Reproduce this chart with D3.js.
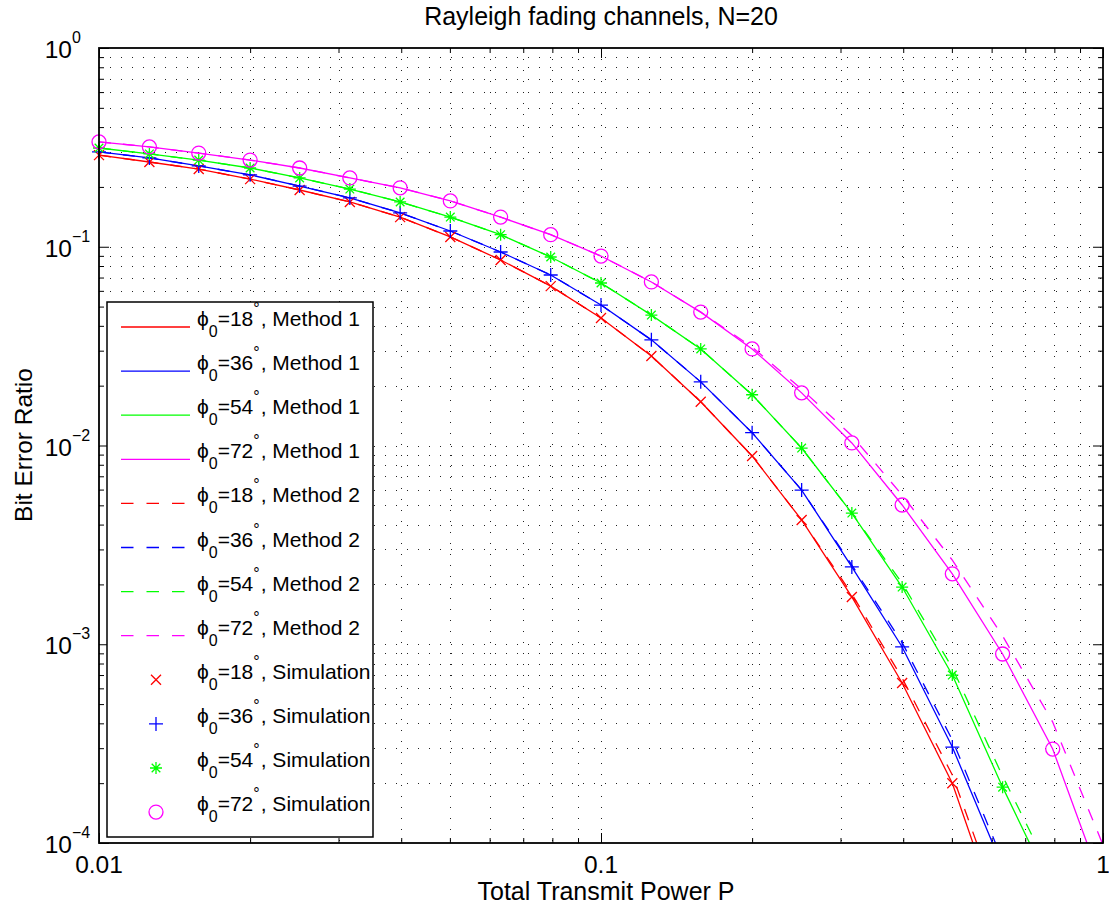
<!DOCTYPE html>
<html>
<head>
<meta charset="utf-8">
<script src="https://d3js.org/d3.v7.min.js"></script>
<style>
body { margin: 0; background: #fff; }
text { font-family: "Liberation Sans", Arial, Helvetica, sans-serif; fill: #000; }
</style>
</head>
<body>
<div id="chart-area"></div>
<script>
// transmit power grid (x values)
const P = [0.01, 0.0126, 0.0158, 0.02, 0.0251, 0.0316, 0.0398, 0.0501, 0.0631, 0.0794,
	0.1, 0.126, 0.158, 0.2, 0.251, 0.316, 0.398, 0.501, 0.631, 0.794, 1]

// Method 1 (solid)
const m1_18 = [0.289, 0.267, 0.246, 0.219, 0.193, 0.168, 0.141, 0.112, 0.0858, 0.0634, 0.0438, 0.0282, 0.0166, 0.00886, 0.00422, 0.00173, 0.000638, 0.000200, 3.69e-5]
const m1_36 = [0.300, 0.280, 0.255, 0.230, 0.202, 0.176, 0.148, 0.120, 0.0941, 0.0721, 0.0509, 0.0340, 0.0209, 0.0116, 0.00597, 0.00245, 0.000969, 0.000304, 7.57e-5]
const m1_54 = [0.314, 0.293, 0.273, 0.249, 0.222, 0.195, 0.168, 0.141, 0.115, 0.0888, 0.0657, 0.0453, 0.0306, 0.0180, 0.00971, 0.00457, 0.00194, 0.000700, 0.000191, 5.73e-5]
const m1_72 = [0.337, 0.318, 0.296, 0.273, 0.249, 0.222, 0.198, 0.170, 0.141, 0.115, 0.0898, 0.0665, 0.0469, 0.0306, 0.0184, 0.0103, 0.00502, 0.00226, 0.000893, 0.000297, 6.01e-5]

// Method 2 (dashed)
const m2_18 = [0.289, 0.267, 0.246, 0.219, 0.193, 0.168, 0.141, 0.112, 0.0858, 0.0634, 0.0438, 0.0282, 0.0166, 0.00886, 0.00422, 0.00179, 0.000676, 0.000220, 4.34e-5]
const m2_36 = [0.300, 0.280, 0.255, 0.230, 0.202, 0.176, 0.148, 0.120, 0.0941, 0.0721, 0.0509, 0.0340, 0.0209, 0.0116, 0.00597, 0.00250, 0.00102, 0.000330, 8.21e-5]
const m2_54 = [0.314, 0.293, 0.273, 0.249, 0.222, 0.195, 0.168, 0.141, 0.115, 0.0888, 0.0657, 0.0453, 0.0306, 0.0180, 0.00971, 0.00457, 0.00203, 0.000760, 0.000217, 6.74e-5]
const m2_72 = [0.337, 0.318, 0.296, 0.273, 0.249, 0.222, 0.198, 0.170, 0.141, 0.115, 0.0898, 0.0665, 0.0469, 0.0313, 0.0192, 0.0112, 0.00563, 0.00265, 0.00110, 0.000406, 9.77e-5]

// Simulation (markers)
const sim_18 = [0.289, 0.267, 0.246, 0.219, 0.193, 0.168, 0.141, 0.112, 0.0858, 0.0634, 0.0438, 0.0282, 0.0166, 0.00886, 0.00422, 0.00173, 0.000638, 0.000200]
const sim_36 = [0.300, 0.280, 0.255, 0.230, 0.202, 0.176, 0.148, 0.120, 0.0941, 0.0721, 0.0509, 0.0340, 0.0209, 0.0116, 0.00597, 0.00245, 0.000969, 0.000304]
const sim_54 = [0.314, 0.293, 0.273, 0.249, 0.222, 0.195, 0.168, 0.141, 0.115, 0.0888, 0.0657, 0.0453, 0.0306, 0.0180, 0.00971, 0.00457, 0.00194, 0.000700, 0.000191]
const sim_72 = [0.337, 0.318, 0.296, 0.273, 0.249, 0.222, 0.198, 0.170, 0.141, 0.115, 0.0898, 0.0665, 0.0469, 0.0306, 0.0184, 0.0103, 0.00502, 0.00226, 0.000893, 0.000297]

const angles = ["18", "36", "54", "72"]
const colors = ["#ff0000", "#0000ff", "#00ff00", "#ff00ff"]
const markers = ["x", "plus", "star", "circle"]

// tick labels
const xMajor = [0.01, 0.1, 1]
const xLabels = ["0.01", "0.1", "1"]
const yMajor = [1e-4, 1e-3, 1e-2, 1e-1, 1]
const yExp = ["\u22124", "\u22123", "\u22122", "\u22121", "0"]

const MARGIN = { LEFT: 99, RIGHT: 6, TOP: 48, BOTTOM: 64 }
const WIDTH = 1109 - MARGIN.LEFT - MARGIN.RIGHT
const HEIGHT = 907 - MARGIN.TOP - MARGIN.BOTTOM

const svg = d3.select("#chart-area").append("svg")
	.attr("width", 1109)
	.attr("height", 907)

const g = svg.append("g")
	.attr("transform", `translate(${MARGIN.LEFT}, ${MARGIN.TOP})`)

const x = d3.scaleLog().domain([0.01, 1]).range([0, WIDTH])
const y = d3.scaleLog().domain([1e-4, 1]).range([HEIGHT, 0])

// minor tick positions (2..9 per decade)
const xMinor = []
xMajor.slice(0, -1).forEach(d => { for (let k = 2; k < 10; k++) xMinor.push(d * k) })
const yMinor = []
yMajor.slice(0, -1).forEach(d => { for (let k = 2; k < 10; k++) yMinor.push(d * k) })

// dotted grid
const gridX = xMajor.slice(1, -1).concat(xMinor)
const gridY = yMajor.slice(1, -1).concat(yMinor)
const grid = g.append("g")
	.attr("stroke", "#222")
	.attr("stroke-width", 1)
	.attr("stroke-dasharray", "1,10")
	.attr("shape-rendering", "crispEdges")
grid.selectAll(".gx").data(gridX).enter().append("line")
	.attr("x1", d => Math.round(x(d)) + 0.5).attr("x2", d => Math.round(x(d)) + 0.5)
	.attr("y1", 0).attr("y2", HEIGHT)
grid.selectAll(".gy").data(gridY).enter().append("line")
	.attr("y1", d => Math.round(y(d)) + 0.5).attr("y2", d => Math.round(y(d)) + 0.5)
	.attr("x1", 0).attr("x2", WIDTH)

// ticks on all four sides, pointing inward
const addTicks = (axis, values, size, transform) => {
	const a = g.append("g")
		.attr("transform", transform)
		.call(axis.tickValues(values).tickSize(-size).tickFormat(""))
	a.select(".domain").remove()
	a.selectAll("line").attr("stroke-width", 1)
}
addTicks(d3.axisBottom(x), xMinor, 5, `translate(0, ${HEIGHT})`)
addTicks(d3.axisBottom(x), xMajor, 10, `translate(0, ${HEIGHT})`)
addTicks(d3.axisTop(x), xMinor, 5, "translate(0, 0)")
addTicks(d3.axisTop(x), xMajor, 10, "translate(0, 0)")
addTicks(d3.axisLeft(y), yMinor, 5, "translate(0, 0)")
addTicks(d3.axisLeft(y), yMajor, 10, "translate(0, 0)")
addTicks(d3.axisRight(y), yMinor, 5, `translate(${WIDTH}, 0)`)
addTicks(d3.axisRight(y), yMajor, 10, `translate(${WIDTH}, 0)`)

// x tick labels
g.selectAll(".x-label").data(xMajor).enter().append("text")
	.attr("x", d => x(d))
	.attr("y", HEIGHT + 30)
	.attr("text-anchor", "middle")
	.style("font-size", "24.5px")
	.text((d, i) => xLabels[i])

// y tick labels with exponents
const yl = g.selectAll(".y-label").data(yMajor).enter().append("text")
	.attr("x", -27)
	.attr("y", d => y(d) + 10)
	.style("font-size", "24.5px")
yl.append("tspan").attr("text-anchor", "end").text("10")
yl.append("tspan")
	.attr("x", -27)
	.attr("dy", -15)
	.style("font-size", "16px")
	.text((d, i) => yExp[i])

// curves
const plot = g.append("g")
svg.append("clipPath").attr("id", "clip")
	.append("rect").attr("width", WIDTH).attr("height", HEIGHT)
plot.attr("clip-path", "url(#clip)")

const line = d3.line()
	.x((d, i) => x(P[i]))
	.y(d => y(d))

const method1 = [m1_18, m1_36, m1_54, m1_72]
const method2 = [m2_18, m2_36, m2_54, m2_72]
const sims = [sim_18, sim_36, sim_54, sim_72]

method2.forEach((s, i) => {
	plot.append("path")
		.attr("d", line(s))
		.attr("fill", "none")
		.attr("stroke", colors[i])
		.attr("stroke-width", 1.3)
		.attr("stroke-dasharray", "12,12")
})
method1.forEach((s, i) => {
	plot.append("path")
		.attr("d", line(s))
		.attr("fill", "none")
		.attr("stroke", colors[i])
		.attr("stroke-width", 1.3)
})

const markerPath = type => {
	switch (type) {
		case "x":
			return "M-5,-5L5,5M-5,5L5,-5"
		case "plus":
			return "M-7,0H7M0,-7V7"
		case "star":
			return "M-6,0H6M0,-6V6M-4.3,-4.3L4.3,4.3M-4.3,4.3L4.3,-4.3"
		case "circle":
			return "M7,0A7,7 0 1,1 -7,0A7,7 0 1,1 7,0Z"
	}
}

sims.forEach((s, i) => {
	g.selectAll(".m" + i).data(s).enter().append("path")
		.attr("transform", (d, j) => `translate(${x(P[j])}, ${y(d)})`)
		.attr("d", markerPath(markers[i]))
		.attr("fill", "none")
		.attr("stroke", colors[i])
		.attr("stroke-width", 1.3)
})

// axes box
g.append("rect")
	.attr("width", WIDTH)
	.attr("height", HEIGHT)
	.attr("fill", "none")
	.attr("stroke", "#000")
	.attr("stroke-width", 1.8)

// legend
const legendEntries = []
angles.forEach((a, i) => legendEntries.push({ angle: a, color: colors[i], kind: "solid", label: ", Method 1" }))
angles.forEach((a, i) => legendEntries.push({ angle: a, color: colors[i], kind: "dash", label: ", Method 2" }))
angles.forEach((a, i) => legendEntries.push({ angle: a, color: colors[i], kind: markers[i], label: ", Simulation" }))

const legend = svg.append("g").attr("transform", "translate(107, 302)")
legend.append("rect")
	.attr("width", 266)
	.attr("height", 535)
	.attr("fill", "#fff")
	.attr("stroke", "#000")
	.attr("stroke-width", 1.5)

const entry = legend.selectAll(".entry").data(legendEntries).enter().append("g")
	.attr("transform", (d, i) => `translate(0, ${25 + i * 44.1})`)

entry.filter(d => d.kind === "solid" || d.kind === "dash").append("line")
	.attr("x1", 14).attr("x2", 83)
	.attr("stroke", d => d.color)
	.attr("stroke-width", 1.3)
	.attr("stroke-dasharray", d => d.kind === "dash" ? "12.5,13" : null)

entry.filter(d => d.kind !== "solid" && d.kind !== "dash").append("path")
	.attr("transform", "translate(49, 0)")
	.attr("d", d => markerPath(d.kind))
	.attr("fill", "none")
	.attr("stroke", d => d.color)
	.attr("stroke-width", 1.3)

const lt = entry.append("text")
	.attr("x", 90)
	.attr("y", -1)
	.style("font-size", "21px")
lt.append("tspan").text("\u03D5")
lt.append("tspan").attr("dy", 11).style("font-size", "16px").text("0")
lt.append("tspan").attr("dy", -11).text(d => "=" + d.angle)
lt.append("tspan").attr("dy", -12).style("font-size", "16px").text("\u00B0")
lt.append("tspan").attr("dy", 12).attr("dx", 1).text(d => d.label)

// titles
svg.append("text")
	.attr("x", 601)
	.attr("y", 25)
	.attr("text-anchor", "middle")
	.style("font-size", "25px")
	.text("Rayleigh fading channels, N=20")

svg.append("text")
	.attr("x", 606)
	.attr("y", 900)
	.attr("text-anchor", "middle")
	.style("font-size", "25px")
	.text("Total Transmit Power P")

svg.append("text")
	.attr("transform", "translate(32, 445) rotate(-90)")
	.attr("text-anchor", "middle")
	.style("font-size", "24.5px")
	.text("Bit Error Ratio")
</script>
</body>
</html>
